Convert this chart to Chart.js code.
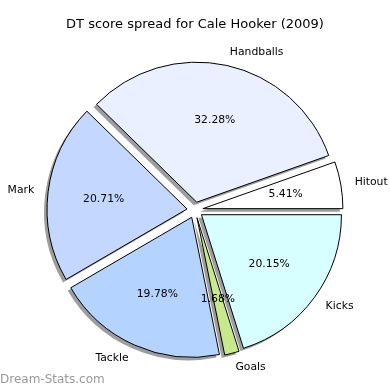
<!DOCTYPE html>
<html>
<head>
<meta charset="utf-8">
<script src="https://cdn.jsdelivr.net/npm/chart.js@4.4.0/dist/chart.umd.min.js"></script>
<style>
html,body{margin:0;padding:0;background:#fff;}
#c{display:block;}
</style>
</head>
<body>
<canvas id="c" width="390" height="390"></canvas>
<script>
// Data (matplotlib counter-clockwise order, starting at 3 o'clock)
const categories = ['Hitout', 'Handballs', 'Mark', 'Tackle', 'Goals', 'Kicks'];
const values = [5.41, 32.28, 20.71, 19.78, 1.68, 20.15];
const colors = ['#ffffff', '#eaf0ff', '#c4d8ff', '#b4d4ff', '#c8e88c', '#d8ffff'];
const titleText = 'DT score spread for Cale Hooker (2009)';
const watermark = 'Dream-Stats.com';

// Chart.js draws clockwise, so reverse to mimic counter-clockwise layout
const cjLabels = categories.slice().reverse();
const cjValues = values.slice().reverse();
const cjColors = colors.slice().reverse();

const FONT = '"DejaVu Sans", "Liberation Sans", sans-serif';
const EXPLODE = 8;
const RADIUS = 140;

const explodePlugin = {
  id: 'explodePie',
  beforeDatasetDraw(chart, args) {
    const ctx = chart.ctx;
    const arcs = args.meta.data;
    // shadow pass
    arcs.forEach(a => {
      const p = a.getProps(['startAngle', 'endAngle']);
      const mid = (p.startAngle + p.endAngle) / 2;
      ctx.save();
      ctx.translate(Math.cos(mid) * EXPLODE - 3, Math.sin(mid) * EXPLODE + 3);
      ctx.globalAlpha = 1;
      const bg = a.options.backgroundColor, bc = a.options.borderColor;
      a.options.backgroundColor = 'rgba(60,60,60,0.5)';
      a.options.borderColor = 'rgba(0,0,0,0)';
      a.draw(ctx);
      a.options.backgroundColor = bg;
      a.options.borderColor = bc;
      ctx.restore();
    });
    // wedges
    arcs.forEach(a => {
      const p = a.getProps(['startAngle', 'endAngle']);
      const mid = (p.startAngle + p.endAngle) / 2;
      ctx.save();
      ctx.translate(Math.cos(mid) * EXPLODE, Math.sin(mid) * EXPLODE);
      a.draw(ctx);
      ctx.restore();
    });
    return false;
  },
  afterDatasetsDraw(chart) {
    const ctx = chart.ctx;
    const meta = chart.getDatasetMeta(0);
    const data = chart.data.datasets[0].data;
    const total = data.reduce((s, v) => s + v, 0);
    ctx.save();
    ctx.font = '10.8px ' + FONT;
    ctx.fillStyle = '#000';
    ctx.textBaseline = 'middle';
    meta.data.forEach((a, i) => {
      const p = a.getProps(['x', 'y', 'startAngle', 'endAngle', 'outerRadius']);
      const mid = (p.startAngle + p.endAngle) / 2;
      const cx = p.x + Math.cos(mid) * EXPLODE;
      const cy = p.y + Math.sin(mid) * EXPLODE;
      const lx = cx + Math.cos(mid) * p.outerRadius * 1.1;
      const ly = cy + Math.sin(mid) * p.outerRadius * 1.1;
      ctx.textAlign = Math.cos(mid) > 0 ? 'left' : 'right';
      ctx.fillText(chart.data.labels[i], lx, ly);
      const px = cx + Math.cos(mid) * p.outerRadius * 0.6;
      const py = cy + Math.sin(mid) * p.outerRadius * 0.6;
      ctx.textAlign = 'center';
      ctx.fillText((data[i] / total * 100).toFixed(2) + '%', px, py);
    });
    ctx.restore();
  },
  afterDraw(chart) {
    const ctx = chart.ctx;
    ctx.save();
    ctx.font = '12px ' + FONT;
    ctx.fillStyle = '#9a9a9a';
    ctx.textAlign = 'left';
    ctx.textBaseline = 'middle';
    ctx.fillText(watermark, 0, 380);
    ctx.restore();
  }
};

new Chart(document.getElementById('c'), {
  type: 'pie',
  data: {
    labels: cjLabels,
    datasets: [{
      data: cjValues,
      backgroundColor: cjColors,
      borderColor: '#000000',
      borderWidth: 1,
      borderJoinStyle: 'miter',
      radius: RADIUS,
      offset: 0
    }]
  },
  options: {
    responsive: false,
    animation: false,
    events: [],
    rotation: 90,
    layout: { padding: { top: 0, bottom: 2.6, left: 0, right: 0 } },
    plugins: {
      legend: { display: false },
      tooltip: { enabled: false },
      title: {
        display: true,
        text: titleText,
        color: '#000',
        font: { family: FONT, size: 13, weight: 'normal' },
        padding: { top: 17, bottom: 0 }
      }
    }
  },
  plugins: [explodePlugin]
});
</script>
</body>
</html>
